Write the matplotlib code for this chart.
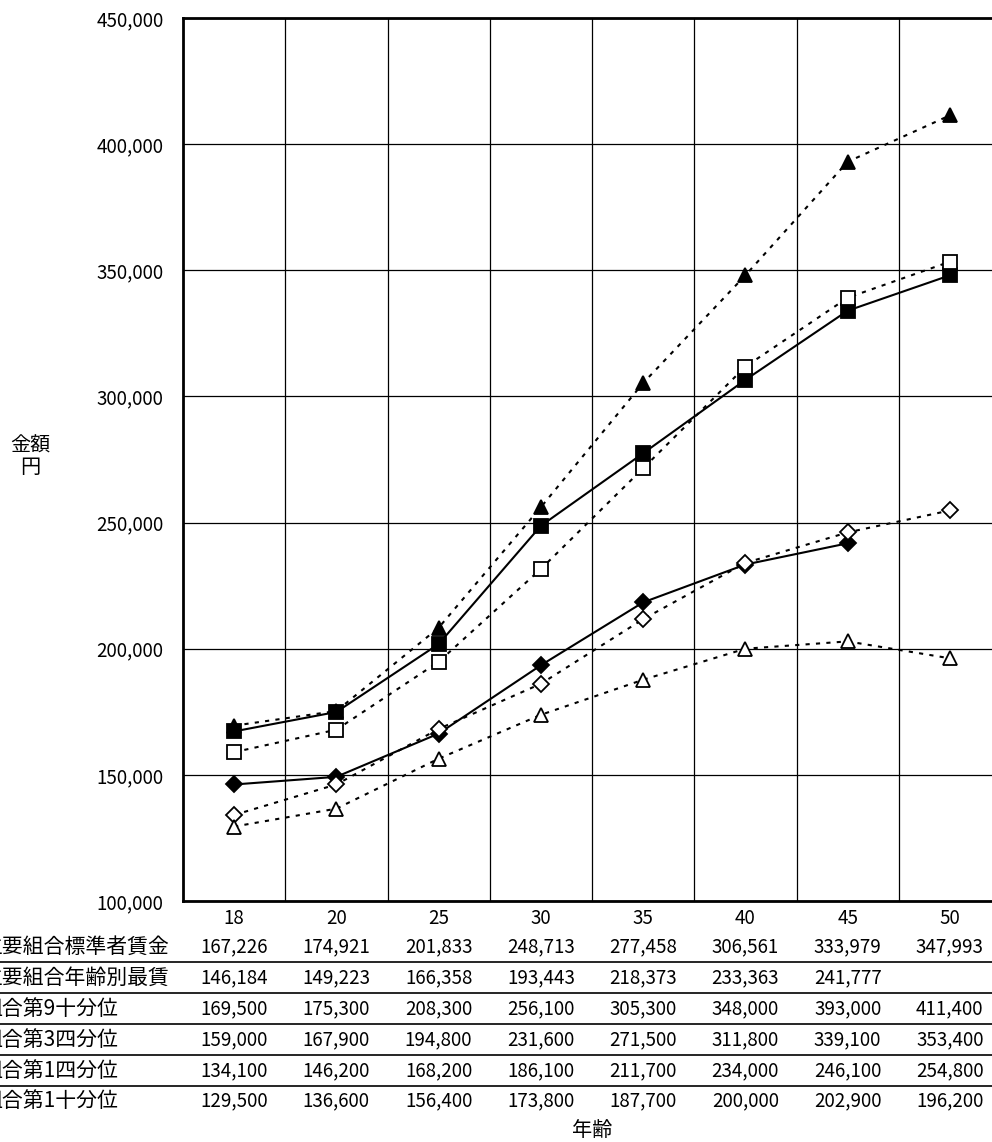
import matplotlib
matplotlib.use("Agg")
import matplotlib.pyplot as plt
from matplotlib.lines import Line2D
from matplotlib.transforms import blended_transform_factory

plt.rcParams['font.family'] = ['Noto Sans CJK JP', 'DejaVu Sans']

ages = ["18", "20", "25", "30", "35", "40", "45", "50"]
row_labels = ["主要組合標準者賃金", "主要組合年齢別最賃", "組合第9十分位",
              "組合第3四分位", "組合第1四分位", "組合第1十分位"]
standard = [167226, 174921, 201833, 248713, 277458, 306561, 333979, 347993]
min_wage = [146184, 149223, 166358, 193443, 218373, 233363, 241777, None]
p90 = [169500, 175300, 208300, 256100, 305300, 348000, 393000, 411400]
p75 = [159000, 167900, 194800, 231600, 271500, 311800, 339100, 353400]
p25 = [134100, 146200, 168200, 186100, 211700, 234000, 246100, 254800]
p10 = [129500, 136600, 156400, 173800, 187700, 200000, 202900, 196200]

series = [standard, min_wage, p90, p75, p25, p10]
styles = [
    dict(marker="s", mfc="black", ls="-", ms=10),
    dict(marker="D", mfc="black", ls="-", ms=8),
    dict(marker="^", mfc="black", ls=(0, (2, 3)), ms=10),
    dict(marker="s", mfc="white", ls=(0, (2, 3)), ms=10),
    dict(marker="D", mfc="white", ls=(0, (2, 3)), ms=8),
    dict(marker="^", mfc="white", ls=(0, (2, 3)), ms=10),
]

W, H = 992, 1142
fig = plt.figure(figsize=(W / 100, H / 100), dpi=100)
left, right, top, bottom = 183, 1001, 18, 901
ax = fig.add_axes([left / W, 1 - bottom / H, (right - left) / W, (bottom - top) / H])

x = list(range(len(ages)))
for vals, st in zip(series, styles):
    xs = [i for i, v in zip(x, vals) if v is not None]
    ys = [v for v in vals if v is not None]
    ax.plot(xs, ys, color="black", lw=1.5, marker=st["marker"], ms=st["ms"],
            mfc=st["mfc"], mec="black", mew=1.3, ls=st["ls"])

ax.set_xlim(-0.5, len(ages) - 0.5)
ax.set_ylim(100000, 450000)
ax.set_yticks(range(100000, 450001, 50000))
ax.set_yticklabels([f"{v:,}" for v in range(100000, 450001, 50000)], fontsize=13.5)
ax.set_xticks([i + 0.5 for i in x[:-1]])
ax.set_xticklabels([])
ax.tick_params(length=0, pad=14)
ax.grid(True, color="black", lw=0.9)
for s in ["left", "top", "bottom"]:
    ax.spines[s].set_linewidth(2)

# data table below the plot
tr = blended_transform_factory(ax.transData, fig.transFigure)
row_y = [918, 947, 978, 1009, 1040, 1071, 1101]
for i, a in enumerate(ages):
    fig.text(i, 1 - row_y[0] / H, a, transform=tr, ha="center", va="center", fontsize=13.5)
for r, (lab, vals) in enumerate(zip(row_labels, series)):
    yy = 1 - row_y[r + 1] / H
    fig.text(-18 / W, yy, lab, ha="left", va="center", fontsize=15)
    for i, v in enumerate(vals):
        if v is not None:
            fig.text(i, yy, f"{v:,}", transform=tr, ha="center", va="center", fontsize=13.5)
for sep in [962, 993, 1024, 1055, 1086]:
    fig.add_artist(Line2D([0, 1], [1 - sep / H] * 2, color="black", lw=1.2,
                          transform=fig.transFigure))

fig.text(592 / W, 1 - 1130 / H, "年齢", ha="center", va="center", fontsize=14.5)
fig.text(30 / W, 1 - 457 / H, "金額\n円", ha="center", va="center", fontsize=14.5,
         linespacing=1.05)

fig.savefig("out.png", dpi=100)
